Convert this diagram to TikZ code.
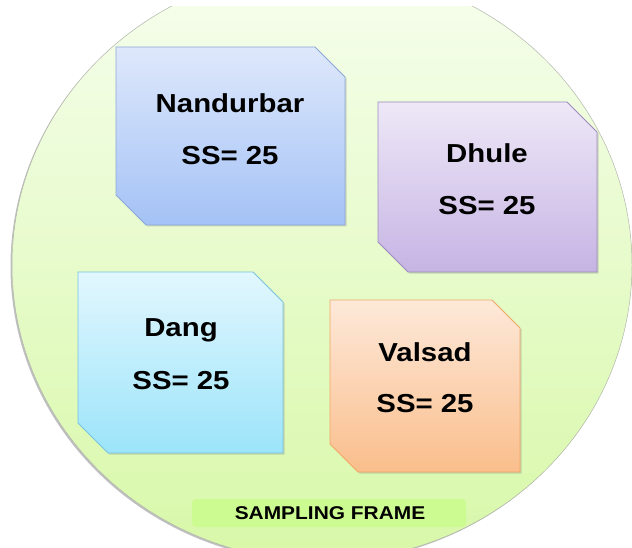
\documentclass[tikz,border=0pt]{standalone}
\usepackage{fontspec}
\setmainfont{Liberation Sans}[FakeStretch=1.13]
\usetikzlibrary{shadows}
\definecolor{frametop}{RGB}{246,254,238}
\definecolor{framebot}{RGB}{216,248,168}
\definecolor{framelab}{RGB}{204,251,146}
\definecolor{framerim}{RGB}{178,182,172}
\definecolor{bluetop}{RGB}{222,232,251}
\definecolor{bluebot}{RGB}{164,194,246}
\definecolor{blueline}{RGB}{140,168,214}
\definecolor{lilactop}{RGB}{238,232,247}
\definecolor{lilacbot}{RGB}{198,180,228}
\definecolor{lilacline}{RGB}{158,138,190}
\definecolor{cyantop}{RGB}{226,247,254}
\definecolor{cyanbot}{RGB}{156,228,250}
\definecolor{cyanline}{RGB}{120,196,222}
\definecolor{peachtop}{RGB}{253,233,217}
\definecolor{peachbot}{RGB}{250,190,140}
\definecolor{peachline}{RGB}{240,166,100}

\begin{document}
\begin{tikzpicture}[x=1pt,y=-1pt,
   district/.style={draw=#1line, line width=0.8pt, top color=#1top, bottom color=#1bot,
      drop shadow={shadow xshift=1.5pt,shadow yshift=-1.5pt,opacity=0.3}},
   distname/.style={anchor=base, font=\fontsize{26}{30}\selectfont\bfseries},
   framename/.style={anchor=base, font=\fontsize{18.5}{22}\selectfont\bfseries}]
   \useasboundingbox (0,0) rectangle (632,548);
   % sampling frame
   \begin{scope}
      \clip (0,7) rectangle (632,548);
      \fill[black!25] (320.5,266.5) ellipse [x radius=310, y radius=296];
      \shade[top color=frametop, bottom color=framebot, draw=framerim, line width=0.5pt]
         (322,265) ellipse [x radius=310, y radius=296];
   \end{scope}
   \fill[framelab, rounded corners=4pt] (192,499) rectangle (466,527);
   \node[framename] (frame) at (330,519) {SAMPLING FRAME};
   % districts
   \path[district=blue]  (116,47) -- (315,47) -- (345,77) -- (345,225) -- (146,225) -- (116,195) -- cycle;
   \path[district=lilac] (378,102) -- (567,102) -- (597,132) -- (597,272) -- (408,272) -- (378,242) -- cycle;
   \path[district=cyan]  (78,272) -- (253,272) -- (283,302) -- (283,453) -- (108,453) -- (78,423) -- cycle;
   \path[district=peach] (330,300) -- (492,300) -- (520,328) -- (520,472) -- (358,472) -- (330,444) -- cycle;
   \node[distname] (nandurbar)   at (230,112.5) {Nandurbar};
   \node[distname] (nandurbarss) at (230,164.5) {SS= 25};
   \node[distname] (dhule)       at (487,162.5) {Dhule};
   \node[distname] (dhuless)     at (487,214.5) {SS= 25};
   \node[distname] (dang)        at (181,336.5) {Dang};
   \node[distname] (dangss)      at (181,389.5) {SS= 25};
   \node[distname] (valsad)      at (425,361.5) {Valsad};
   \node[distname] (valsadss)    at (425,412.5) {SS= 25};
\end{tikzpicture}
\end{document}
